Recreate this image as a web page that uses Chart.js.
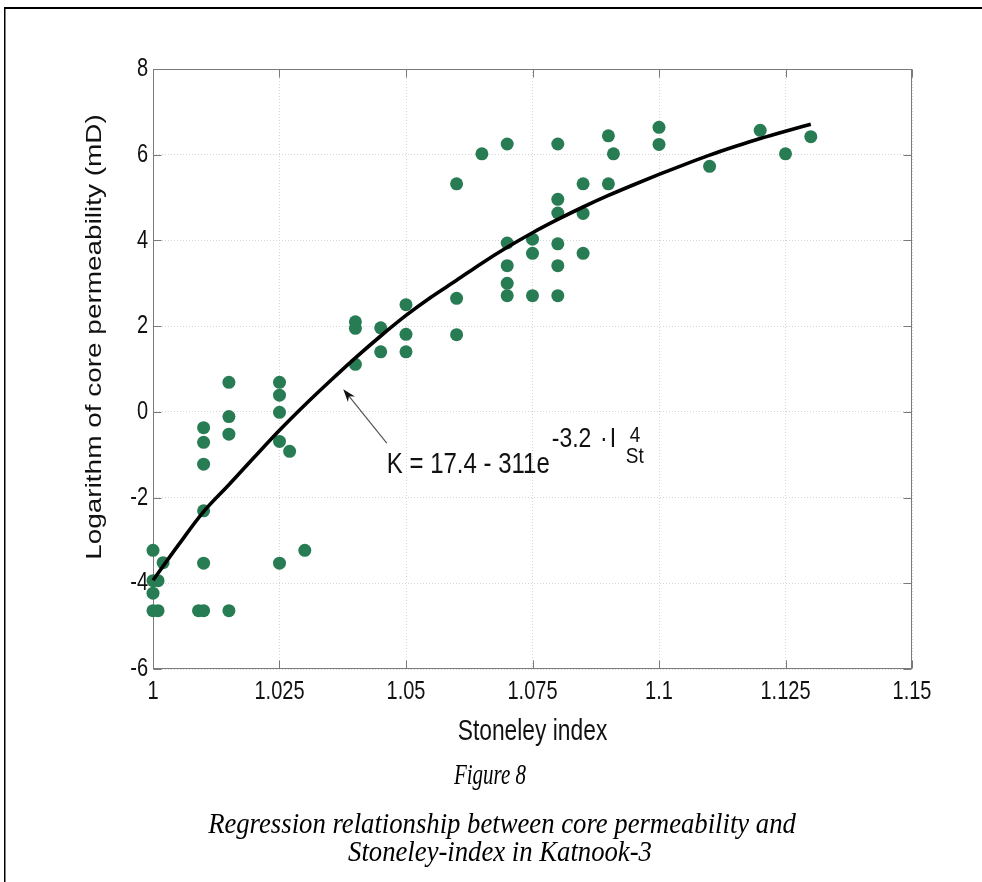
<!DOCTYPE html>
<html><head><meta charset="utf-8">
<script src="https://cdn.jsdelivr.net/npm/chart.js@4.4.0/dist/chart.umd.min.js"></script>
<style>html,body{margin:0;padding:0;background:#fff;} #wrap{position:relative;width:982px;height:882px;}</style>
</head><body><div id="wrap"><canvas id="c" width="982" height="882"></canvas></div>
<script>
// ---- data ----
const X_TICKS = [1, 1.025, 1.05, 1.075, 1.1, 1.125, 1.15];
const X_TICK_LABELS = ['1', '1.025', '1.05', '1.075', '1.1', '1.125', '1.15'];
const Y_TICKS = [-6, -4, -2, 0, 2, 4, 6, 8];
const Y_TICK_LABELS = ['-6', '-4', '-2', '0', '2', '4', '6', '8'];

const stoneleyIndex = [
  1.000, 1.000, 1.001, 1.000, 1.000, 1.001, 1.002,
  1.009, 1.010, 1.010, 1.010, 1.010, 1.010, 1.010,
  1.015, 1.015, 1.015, 1.015,
  1.025, 1.025, 1.025, 1.025, 1.025, 1.027, 1.030,
  1.040, 1.040, 1.040, 1.045, 1.045, 1.050, 1.050, 1.050,
  1.060, 1.060, 1.060, 1.065,
  1.070, 1.070, 1.070, 1.070, 1.070,
  1.075, 1.075, 1.075,
  1.080, 1.080, 1.080, 1.080, 1.080, 1.080,
  1.085, 1.085, 1.085, 1.090, 1.090, 1.091,
  1.100, 1.100, 1.110, 1.120, 1.125, 1.130
];
const logPermeability = [
  -3.23, -3.94, -3.94, -4.23, -4.64, -4.64, -3.52,
  -4.64, -4.64, -0.37, -0.71, -1.22, -2.31, -3.53,
   0.69, -0.11, -0.52, -4.64,
   0.69,  0.39, -0.01, -0.69, -3.53, -0.92, -3.23,
   2.10,  1.95,  1.11,  1.96,  1.40,  2.50,  1.81,  1.40,
   5.32,  2.65,  1.80,  6.02,
   6.25,  3.94,  3.41,  3.00,  2.71,
   4.03,  3.70,  2.71,
   6.25,  4.96,  4.64,  3.92,  3.41,  2.71,
   5.32,  4.63,  3.70,  6.44,  5.32,  6.02,
   6.64,  6.24,  5.73,  6.57,  6.02,  6.42
];
const fitIndex = [
  1.000, 1.005, 1.010, 1.015, 1.020, 1.025, 1.030, 1.035, 1.040, 1.045,
  1.050, 1.055, 1.060, 1.065, 1.070, 1.075, 1.080, 1.085, 1.090, 1.095,
  1.100, 1.105, 1.110, 1.115, 1.120, 1.125, 1.130
];
const fitLogPermeability = [
  -3.93, -3.11, -2.33, -1.70, -1.06, -0.43, 0.16, 0.72, 1.26, 1.77,
   2.25,  2.68,  3.07,  3.47,  3.84,  4.18, 4.49, 4.78, 5.05, 5.30,
   5.54,  5.77,  5.99,  6.19,  6.38,  6.55, 6.71
];
const X_TITLE = 'Stoneley index';
const Y_TITLE = 'Logarithm of core permeability (mD)';
const ANNOT_ARROW_TAIL = [1.0462, -0.73];
const ANNOT_ARROW_TIP = [1.0376, 0.53];
const ANNOT_TEXT_AT = [1.0462, -1.43];
const ANNOT_MAIN = 'K = 17.4 - 311e';
const ANNOT_SUP_A = '-3.2';
const ANNOT_SUP_DOT = '\u00B7';
const ANNOT_SUP_I = 'I';
const ANNOT_SUB = 'St';
const ANNOT_POW = '4';
const CAPTION_TITLE = 'Figure 8';
const CAPTION_LINES = ['Regression relationship between core permeability and', 'Stoneley-index in Katnook-3'];

// ---- drawing helpers ----
const SANS = '"Liberation Sans", Arial, Helvetica, sans-serif';
const SERIF = '"Liberation Serif", "Times New Roman", serif';
function stext(ctx, str, x, y, font, align, baseline, sy, rot) {
  ctx.save();
  ctx.translate(x, y);
  ctx.scale(1, sy);
  if (rot) ctx.rotate(rot);
  ctx.font = font;
  ctx.textAlign = align;
  ctx.textBaseline = baseline;
  ctx.fillText(str, 0, 0);
  ctx.restore();
}

const figPlugin = {
  id: 'fig',
  beforeDraw(chart) {
    const ctx = chart.ctx;
    ctx.save();
    ctx.fillStyle = '#fff';
    ctx.fillRect(0, 0, chart.width, chart.height);
    ctx.fillStyle = '#000';
    ctx.fillRect(4, 7, chart.width - 4, 2);
    ctx.fillRect(4, 7, 1.5, chart.height - 7);
    ctx.restore();
  },
  beforeDatasetsDraw(chart) {
    const { ctx, chartArea: a, scales: { x, y } } = chart;
    ctx.save();
    ctx.strokeStyle = '#7a7a7a';
    ctx.lineWidth = 1;
    const L = Math.round(a.left) + 0.5, R = Math.round(a.right) - 0.5;
    const T = Math.round(a.top) + 0.5, B = Math.round(a.bottom) - 0.5;
    ctx.strokeRect(L, T, R - L, B - T);
    ctx.beginPath();
    X_TICKS.forEach(v => {
      const px = Math.round(x.getPixelForValue(v)) + 0.5;
      ctx.moveTo(px, B); ctx.lineTo(px, B - 8);
      ctx.moveTo(px, T); ctx.lineTo(px, T + 8);
    });
    Y_TICKS.forEach(v => {
      const py = Math.round(y.getPixelForValue(v)) + 0.5;
      ctx.moveTo(L, py); ctx.lineTo(L + 8, py);
      ctx.moveTo(R, py); ctx.lineTo(R - 8, py);
    });
    ctx.stroke();
    ctx.restore();
  },
  afterDraw(chart) {
    const { ctx, chartArea: a, scales: { x, y } } = chart;
    ctx.save();
    ctx.fillStyle = '#111';
    // tick labels
    X_TICKS.forEach((v, i) => {
      stext(ctx, X_TICK_LABELS[i], x.getPixelForValue(v), a.bottom + 30, '20px ' + SANS, 'center', 'alphabetic', 1.3);
    });
    Y_TICKS.forEach((v, i) => {
      stext(ctx, Y_TICK_LABELS[i], a.left - 5, y.getPixelForValue(v), '20px ' + SANS, 'right', 'middle', 1.3);
    });
    // axis titles
    stext(ctx, X_TITLE, (a.left + a.right) / 2, a.bottom + 71, '22.8px ' + SANS, 'center', 'alphabetic', 1.3);
    stext(ctx, Y_TITLE, 95, 337, '22px ' + SANS, 'center', 'middle', 1.27, -Math.PI / 2);

    // annotation arrow
    const tx = x.getPixelForValue(ANNOT_ARROW_TAIL[0]), ty = y.getPixelForValue(ANNOT_ARROW_TAIL[1]);
    const hx = x.getPixelForValue(ANNOT_ARROW_TIP[0]), hy = y.getPixelForValue(ANNOT_ARROW_TIP[1]);
    const ang = Math.atan2(hy - ty, hx - tx);
    const hl = 13, hw = 4.5;
    ctx.strokeStyle = '#555';
    ctx.lineWidth = 1.2;
    ctx.beginPath();
    ctx.moveTo(tx, ty);
    ctx.lineTo(hx - Math.cos(ang) * hl * 0.6, hy - Math.sin(ang) * hl * 0.6);
    ctx.stroke();
    ctx.fillStyle = '#111';
    ctx.beginPath();
    ctx.moveTo(hx, hy);
    ctx.lineTo(hx - Math.cos(ang) * hl - Math.sin(ang) * hw, hy - Math.sin(ang) * hl + Math.cos(ang) * hw);
    ctx.lineTo(hx - Math.cos(ang) * hl * 0.7, hy - Math.sin(ang) * hl * 0.7);
    ctx.lineTo(hx - Math.cos(ang) * hl + Math.sin(ang) * hw, hy - Math.sin(ang) * hl - Math.cos(ang) * hw);
    ctx.closePath();
    ctx.fill();

    // equation  K = 17.4 - 311e^{-3.2·I_St^4}
    ctx.fillStyle = '#111';
    const ax = x.getPixelForValue(ANNOT_TEXT_AT[0]), ay = y.getPixelForValue(ANNOT_TEXT_AT[1]);
    const mf = '24px ' + SANS, sf = '23px ' + SANS, tf = '19px ' + SANS;
    stext(ctx, ANNOT_MAIN, ax, ay, mf, 'left', 'alphabetic', 1.22);
    stext(ctx, ANNOT_SUP_A, ax + 165, ay - 26, sf, 'left', 'alphabetic', 1.22);
    stext(ctx, ANNOT_SUP_DOT, ax + 217, ay - 26, sf, 'center', 'alphabetic', 1.22);
    stext(ctx, ANNOT_SUP_I, ax + 223, ay - 26, sf, 'left', 'alphabetic', 1.22);
    stext(ctx, ANNOT_SUB, ax + 239, ay - 10, tf, 'left', 'alphabetic', 1.12);
    stext(ctx, ANNOT_POW, ax + 243, ay - 31.5, tf, 'left', 'alphabetic', 1.12);

    // caption
    ctx.fillStyle = '#000';
    stext(ctx, CAPTION_TITLE, 490, 784, 'italic 21px ' + SERIF, 'center', 'alphabetic', 1.4);
    stext(ctx, CAPTION_LINES[0], 502, 833, 'italic 26.7px ' + SERIF, 'center', 'alphabetic', 1.12);
    stext(ctx, CAPTION_LINES[1], 500, 861, 'italic 26.7px ' + SERIF, 'center', 'alphabetic', 1.12);
    ctx.restore();
  }
};

new Chart(document.getElementById('c'), {
  type: 'scatter',
  data: {
    datasets: [
      {
        type: 'line', label: 'Regression',
        data: fitIndex.map((v, i) => ({ x: v, y: fitLogPermeability[i] })),
        borderColor: '#000', borderWidth: 3.6, pointRadius: 0, fill: false,
        cubicInterpolationMode: 'monotone', order: 0, clip: false
      },
      {
        type: 'scatter', label: 'Core data',
        data: stoneleyIndex.map((v, i) => ({ x: v, y: logPermeability[i] })),
        backgroundColor: '#287c53', borderWidth: 0, pointRadius: 6.5, pointHoverRadius: 6.5, order: 1, clip: false
      }
    ]
  },
  options: {
    responsive: false, animation: false, events: [],
    layout: { padding: { left: 153, top: 69, right: 70, bottom: 213 } },
    plugins: { legend: { display: false }, tooltip: { enabled: false } },
    scales: {
      x: {
        type: 'linear', min: 1, max: 1.15,
        afterBuildTicks: s => { s.ticks = X_TICKS.map(v => ({ value: v })); },
        afterFit: s => { s.height = 0; },
        ticks: { display: false },
        grid: { color: '#d6d6d6', lineWidth: 1, drawTicks: false },
        border: { display: false, dash: [1, 2] }
      },
      y: {
        type: 'linear', min: -6, max: 8,
        afterBuildTicks: s => { s.ticks = Y_TICKS.map(v => ({ value: v })); },
        afterFit: s => { s.width = 0; },
        ticks: { display: false },
        grid: { color: '#d6d6d6', lineWidth: 1, drawTicks: false },
        border: { display: false, dash: [1, 2] }
      }
    }
  },
  plugins: [figPlugin]
});
</script>
</body></html>
